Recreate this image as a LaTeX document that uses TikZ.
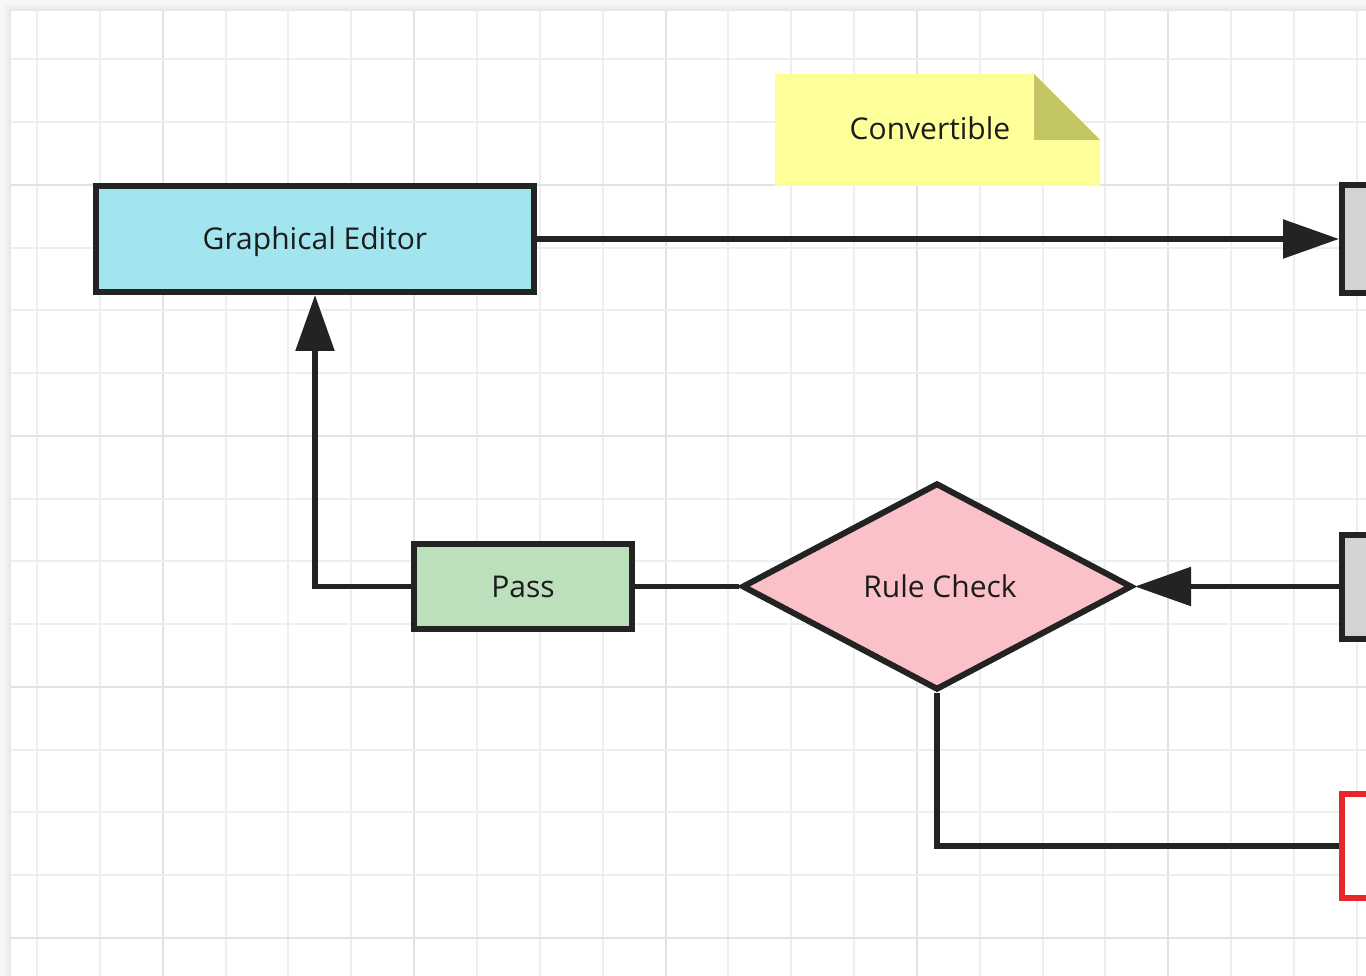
\documentclass[tikz,border=0pt]{standalone}
\usepackage{fontspec}
\setmainfont{Open Sans}
\usetikzlibrary{arrows.meta,shapes.geometric}
\definecolor{ink}{HTML}{232323}
\definecolor{textink}{HTML}{1C1C1C}
\definecolor{gridminor}{HTML}{EEEEEE}
\definecolor{gridmajor}{HTML}{E3E3E3}
\definecolor{cyanfill}{HTML}{A2E5EE}
\definecolor{greenfill}{HTML}{BCE0BB}
\definecolor{pinkfill}{HTML}{FBC1C8}
\definecolor{grayfill}{HTML}{D3D3D3}
\definecolor{notefill}{HTML}{FFFF99}
\definecolor{notefold}{HTML}{C3C463}
\definecolor{errred}{HTML}{E8262B}
\tikzset{
  label text/.style={font=\fontsize{30}{35}\selectfont, text=textink, text height=21.5pt, text depth=0pt, inner sep=0pt},
  box/.style={draw=ink, line width=6pt, rectangle, inner sep=0pt, label text},
  conn/.style={draw=ink, line width=5.5pt},
  arr/.style={conn, -{Triangle[length=56pt,width=38pt]}},
}
\begin{document}
\begin{tikzpicture}[x=1pt,y=-1pt]
\useasboundingbox (0,0) rectangle (1366,976);
\clip (0,0) rectangle (1366,976);
% background and canvas shadow
\fill[gray!6] (0,0) rectangle (1366,976);
\fill[gray!9] (4,4) rectangle (1366,976);
\fill[gray!13] (7,7) rectangle (1366,976);
\fill[gray!18] (9,9) rectangle (1366,976);
\fill[white] (11,11) rectangle (1366,976);
% grid
\foreach \i in {0,...,21}{
  \pgfmathsetmacro{\xx}{37+\i*62.85}
  \pgfmathtruncatemacro{\m}{mod(\i,4)}
  \ifnum\m=2
    \draw[gridmajor, line width=2pt] (\xx,11) -- (\xx,976);
  \else
    \draw[gridminor, line width=2pt] (\xx,11) -- (\xx,976);
  \fi
}
\foreach \j in {0,...,14}{
  \pgfmathsetmacro{\yy}{59.4+\j*62.75}
  \pgfmathtruncatemacro{\m}{mod(\j,4)}
  \ifnum\m=2
    \draw[gridmajor, line width=2pt] (11,\yy) -- (1366,\yy);
  \else
    \draw[gridminor, line width=2pt] (11,\yy) -- (1366,\yy);
  \fi
}
% note
\fill[notefill] (775,74) -- (1034,74) -- (1100,140) -- (1100,186) -- (775,186) -- cycle;
\fill[notefold] (1034,74) -- (1100,140) -- (1034,140) -- cycle;
\node[label text] (note) at (930,129) {Convertible};
% nodes
\node[box, fill=cyanfill, minimum width=438pt, minimum height=106pt] (ge) at (315,239) {Graphical Editor};
\node[box, fill=greenfill, minimum width=218pt, minimum height=85pt] (pass) at (523,586.5) {Pass};
\node[box, shape=diamond, fill=pinkfill, minimum width=390pt, minimum height=207pt, aspect=1.884] (rule) at (937,586.5) {};
\node[label text] (ruletext) at (940,586.5) {Rule Check};
\node[box, fill=grayfill, minimum width=200pt, minimum height=108pt] (gray1) at (1442,239) {};
\node[box, fill=grayfill, minimum width=200pt, minimum height=104pt] (gray2) at (1442,586.5) {};
\node[box, draw=errred, fill=white, minimum width=200pt, minimum height=104pt] (err) at (1442,846) {};
% connectors
\draw[arr] (ge.east) -- (gray1.west);
\draw[arr] (pass.west) -| (ge.south);
\draw[conn] (pass.east) -- (rule.west);
\draw[arr] (gray2.west) -- (rule.east);
\draw[conn] (rule.south) |- (err.west);
\end{tikzpicture}
\end{document}
